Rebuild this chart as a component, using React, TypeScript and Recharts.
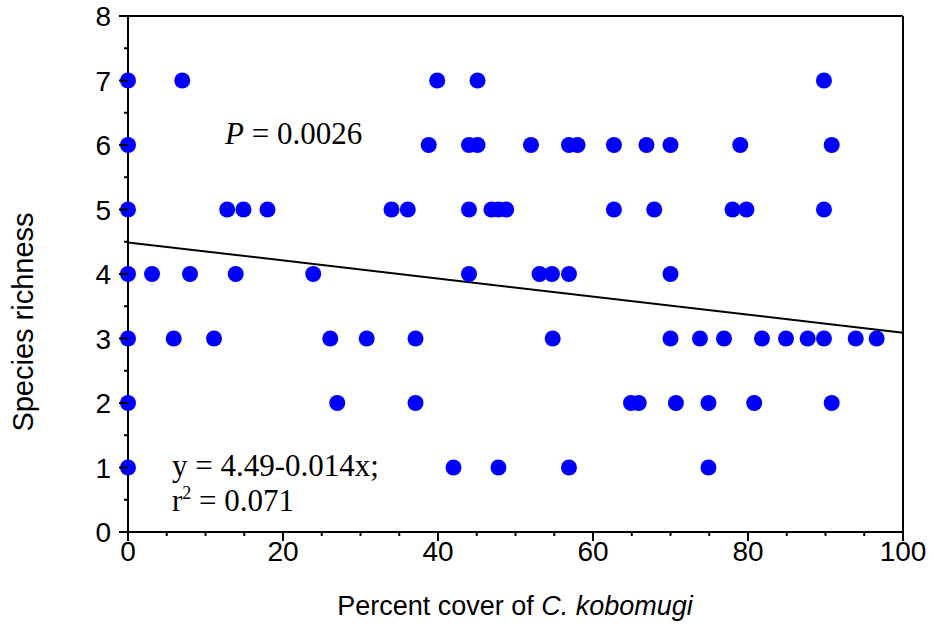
import React from 'react';
import { ScatterChart, Scatter, XAxis, YAxis, ReferenceLine } from 'recharts';

// percent cover of C. kobomugi for each species richness level
const richnessLevels = [7, 6, 5, 4, 3, 2, 1];
const cover7 = [0, 7.0, 39.9, 45.1, 89.8];
const cover6 = [0, 38.8, 44.0, 45.1, 52.0, 56.9, 58.0, 62.7, 66.9, 70.0, 79.0, 90.8];
const cover5 = [0, 12.8, 14.9, 18.0, 34.0, 36.1, 44.0, 46.9, 47.8, 48.8, 62.7, 67.9, 78.0, 79.8, 89.8];
const cover4 = [0, 3.1, 8.0, 13.9, 23.9, 44.0, 53.1, 54.7, 56.9, 70.0];
const cover3 = [0, 5.9, 11.1, 26.1, 30.8, 37.1, 54.8, 70.0, 73.8, 76.9, 81.8, 84.9, 87.7, 89.8, 93.9, 96.6];
const cover2 = [0, 27.0, 37.1, 64.9, 65.9, 70.7, 74.9, 80.8, 90.8];
const cover1 = [0, 42.0, 47.8, 56.9, 74.9];

const fitIntercept = 4.49;
const fitSlope = -0.014;

const xTicks = Array.from({ length: 21 }, (_, i) => i * 5);
const yTicks = Array.from({ length: 17 }, (_, i) => i * 0.5);

const coverByLevel = [cover7, cover6, cover5, cover4, cover3, cover2, cover1];
const points = coverByLevel.flatMap((covers, i) =>
  covers.map((x) => ({ x, y: richnessLevels[i] })),
);

const AXIS_FONT = '"Liberation Sans", Arial, sans-serif';
const TICK_FONT = '"Liberation Sans Narrow", "Arial Narrow", "Liberation Sans", sans-serif';
const NOTE_FONT = '"Liberation Serif", "Times New Roman", serif';

const BottomTick = (props: any) => {
  const { x, y, payload } = props;
  const major = payload.value % 20 === 0;
  return (
    <g>
      <line x1={x} x2={x} y1={y} y2={y + (major ? 9 : 4)} stroke="#000" strokeWidth={2} />
      {major && (
        <text x={x} y={y + 29} textAnchor="middle" fontSize={28} fontFamily={TICK_FONT} fill="#000">
          {payload.value}
        </text>
      )}
    </g>
  );
};

const TopTick = (props: any) => {
  const { x, y, payload } = props;
  const major = payload.value % 20 === 0;
  return <line x1={x} x2={x} y1={y} y2={y - (major ? 9 : 4)} stroke="#000" strokeWidth={2} />;
};

const LeftTick = (props: any) => {
  const { x, y, payload } = props;
  const major = Number.isInteger(payload.value);
  return (
    <g>
      <line x1={x} x2={x - (major ? 9 : 4)} y1={y} y2={y} stroke="#000" strokeWidth={2} />
      {major && (
        <text x={x - 17} y={y + 10} textAnchor="end" fontSize={28} fontFamily={TICK_FONT} fill="#000">
          {payload.value}
        </text>
      )}
    </g>
  );
};

const RightTick = (props: any) => {
  const { x, y, payload } = props;
  const major = Number.isInteger(payload.value);
  return <line x1={x} x2={x + (major ? 9 : 4)} y1={y} y2={y} stroke="#000" strokeWidth={2} />;
};

const App: React.FC = () => {
  return (
    <div style={{ position: 'absolute', left: 0, top: 0, width: 933, height: 632, background: '#fff' }}>
      <ScatterChart width={933} height={632} margin={{ top: 6, right: 20, bottom: 0, left: 0 }}>
        <XAxis
          xAxisId="main"
          dataKey="x"
          type="number"
          domain={[0, 100]}
          ticks={xTicks}
          interval={0}
          tickSize={0}
          tickMargin={0}
          tickLine={false}
          tick={<BottomTick />}
          axisLine={{ stroke: '#000', strokeWidth: 2 }}
          height={100}
        />
        <XAxis
          xAxisId="top"
          orientation="top"
          type="number"
          domain={[0, 100]}
          ticks={xTicks}
          interval={0}
          tickSize={0}
          tickMargin={0}
          tickLine={false}
          tick={<TopTick />}
          axisLine={{ stroke: '#000', strokeWidth: 2 }}
          height={10}
        />
        <YAxis
          yAxisId="main"
          dataKey="y"
          type="number"
          domain={[0, 8]}
          ticks={yTicks}
          interval={0}
          tickSize={0}
          tickMargin={0}
          tickLine={false}
          tick={<LeftTick />}
          axisLine={{ stroke: '#000', strokeWidth: 2 }}
          width={128}
        />
        <YAxis
          yAxisId="right"
          orientation="right"
          type="number"
          domain={[0, 8]}
          ticks={yTicks}
          interval={0}
          tickSize={0}
          tickMargin={0}
          tickLine={false}
          tick={<RightTick />}
          axisLine={{ stroke: '#000', strokeWidth: 2 }}
          width={10}
        />
        <ReferenceLine
          xAxisId="main"
          yAxisId="main"
          segment={[
            { x: 0, y: fitIntercept },
            { x: 100, y: fitIntercept + fitSlope * 100 },
          ]}
          stroke="#000"
          strokeWidth={2}
          ifOverflow="visible"
        />
        <Scatter
          xAxisId="main"
          yAxisId="main"
          data={points}
          fill="#0000ff"
          isAnimationActive={false}
          shape={(p: any) => <circle cx={p.cx} cy={p.cy} r={8} fill="#0000ff" />}
        />
        <text x={225} y={144} fontSize={31} fontFamily={NOTE_FONT} fill="#000">
          <tspan fontStyle="italic">P</tspan>
          <tspan> = 0.0026</tspan>
        </text>
        <text x={172} y={476} fontSize={31} fontFamily={NOTE_FONT} fill="#000">
          y = 4.49-0.014x;
        </text>
        <text x={172} y={511} fontSize={31} fontFamily={NOTE_FONT} fill="#000">
          <tspan>r</tspan>
          <tspan fontSize={18} dy={-12}>2</tspan>
          <tspan dy={12}> = 0.071</tspan>
        </text>
        <text x={515} y={615} textAnchor="middle" fontSize={27} fontFamily={AXIS_FONT} fill="#000">
          <tspan>Percent cover of </tspan>
          <tspan fontStyle="italic">C. kobomugi</tspan>
        </text>
        <text
          x={33}
          y={322}
          textAnchor="middle"
          fontSize={29}
          fontFamily={AXIS_FONT}
          fill="#000"
          transform="rotate(-90, 33, 322)"
        >
          Species richness
        </text>
      </ScatterChart>
    </div>
  );
};

export default App;
